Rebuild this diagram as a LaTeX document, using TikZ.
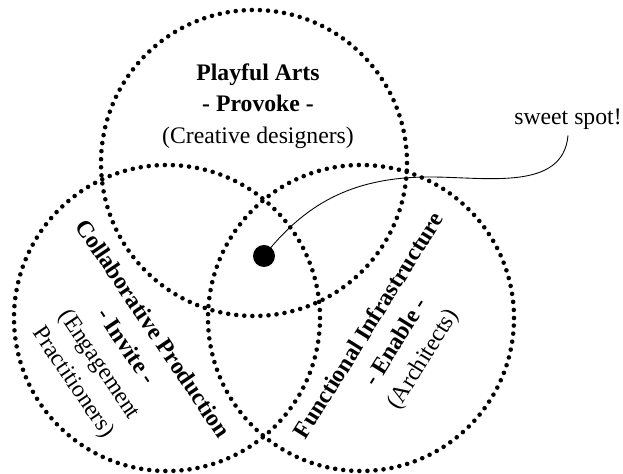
\documentclass[tikz,border=0pt]{standalone}
\usepackage{fontspec}
\setmainfont{Liberation Serif}
\usetikzlibrary{positioning}
\tikzset{
  ring/.style={circle, draw, line width=2.6pt, line cap=round, dash pattern=on 0pt off 4.6pt, minimum size=6.12cm},
  label/.style={align=center, font=\fontsize{13.5}{18}\selectfont},
}
\begin{document}
\begin{tikzpicture}
    \useasboundingbox (0,0) rectangle (12.46,9.48);
    % the three circles
    \node[ring] (arts) at (5.08,6.22) {};
    \node[ring] (collab) at (3.34,3.12) {};
    \node[ring] (infra) at (7.22,3.12) {};
    % labels
    \node[label] (artstext) at (5.16,7.36) {\textbf{Playful Arts}\\ \textbf{- Provoke -}\\ (Creative designers)};
    \node[label, rotate=-56] (collabtext) at (2.24,2.36) {\textbf{Collaborative Production}\\ \textbf{- Invite -}\\ (Engagement\\ Practitioners)};
    \node[label, rotate=58] (infratext) at (7.94,2.62) {\textbf{Functional Infrastructure}\\ \textbf{- Enable -}\\ (Architects)};
    % sweet spot
    \node[circle, fill=black, minimum size=0.44cm, inner sep=0pt] (spot) at (5.28,4.36) {};
    \node[label] (sweet) at (11.36,7.10) {sweet spot!};
    \coordinate (bend) at (8.6,5.94);
    \draw[line width=0.5pt] (spot.center) to[out=52,in=180] (bend) to[out=0,in=-95] (sweet.south);
\end{tikzpicture}
\end{document}
